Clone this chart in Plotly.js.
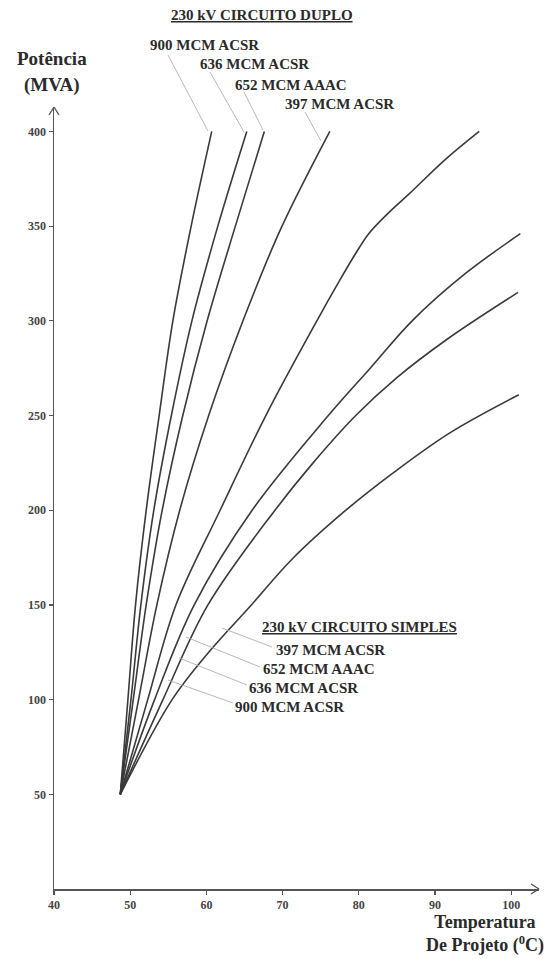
<!DOCTYPE html>
<html>
<head>
<meta charset="utf-8">
<script src="https://cdn.plot.ly/plotly-3.0.1.min.js"></script>
<style>html,body{margin:0;padding:0;background:#fff;}#chart{width:560px;height:959px;}</style>
</head>
<body>
<div id="chart"></div>
<script>
// ---- axis ticks ----
const tempTicks = [40, 50, 60, 70, 80, 90, 100];
const powerTicks = [50, 100, 150, 200, 250, 300, 350, 400];

// ---- 230 kV circuito duplo (temperature °C, power MVA) ----
const dup900_T = [48.7, 49.7, 50.7, 52.1, 53.8, 55.6, 58.0, 60.7];
const dup900_P = [50, 100, 150, 200, 250, 300, 350, 400];
const dup636_T = [48.7, 50.1, 51.4, 53.1, 55.4, 58.1, 61.5, 65.3];
const dup636_P = [50, 100, 150, 200, 250, 300, 350, 400];
const dup652_T = [48.7, 50.4, 52.1, 54.2, 56.9, 60.1, 63.8, 67.6];
const dup652_P = [50, 100, 150, 200, 250, 300, 350, 400];
const dup397_T = [48.7, 51.1, 53.5, 56.5, 60.3, 64.8, 69.7, 76.2];
const dup397_P = [50, 100, 150, 200, 250, 300, 348, 400];

// ---- 230 kV circuito simples ----
const sim900_T = [48.7, 52.3, 56.0, 61.8, 67.8, 74.5, 77.3, 79.5, 81.3, 83.9, 86.6, 91.3, 95.8];
const sim900_P = [50, 100, 150, 200, 250, 300, 320, 335, 346, 357, 367, 385, 400];
const sim636_T = [48.7, 53.2, 58.4, 66.0, 76.0, 81.5, 87.0, 94.0, 101.2];
const sim636_P = [50, 100, 150, 200, 250, 275, 300, 325, 346];
const sim652_T = [48.7, 54.3, 60.2, 69.0, 74.0, 79.6, 85.0, 91.5, 100.9];
const sim652_P = [50, 100, 150, 200, 225, 250, 270, 290, 315];
const sim397_T = [48.7, 55.5, 60.3, 65.9, 71.2, 78.3, 84.6, 92.0, 101.0];
const sim397_P = [50, 100, 125, 150, 174, 200, 220, 241, 261];

const series = [
  [dup900_T, dup900_P, 'Duplo 900 MCM ACSR'],
  [dup636_T, dup636_P, 'Duplo 636 MCM ACSR'],
  [dup652_T, dup652_P, 'Duplo 652 MCM AAAC'],
  [dup397_T, dup397_P, 'Duplo 397 MCM ACSR'],
  [sim900_T, sim900_P, 'Simples 900 MCM ACSR'],
  [sim636_T, sim636_P, 'Simples 636 MCM ACSR'],
  [sim652_T, sim652_P, 'Simples 652 MCM AAAC'],
  [sim397_T, sim397_P, 'Simples 397 MCM ACSR']
];

// ---- layout geometry (pixels) ----
const W = 560, H = 959;
const M = {l: 54, r: 21, t: 107, b: 70};
const PW = W - M.l - M.r, PH = H - M.t - M.b;
const X = px => (px - M.l) / PW;
const Y = py => (H - M.b - py) / PH;

const serif = '"Liberation Serif", "Times New Roman", serif';
const txtColor = '#2a2a2a';

const traces = series.map(s => ({
  x: s[0], y: s[1], name: s[2], type: 'scatter', mode: 'lines',
  line: {color: '#3a3a3a', width: 1.6, shape: 'spline', smoothing: 1},
  hoverinfo: 'x+y+name', showlegend: false
}));

function label(text, cx, cy, size) {
  return {text: text, xref: 'paper', yref: 'paper', x: X(cx), y: Y(cy),
    xanchor: 'center', yanchor: 'middle', showarrow: false,
    font: {family: serif, size: size, color: txtColor, weight: 700}};
}
function leader(x0, y0, x1, y1) {
  return {type: 'line', xref: 'paper', yref: 'paper', x0: X(x0), y0: Y(y0), x1: X(x1), y1: Y(y1),
    line: {color: '#b0b0b0', width: 0.9}};
}
function seg(x0, y0, x1, y1) {
  return {type: 'line', xref: 'paper', yref: 'paper', x0: X(x0), y0: Y(y0), x1: X(x1), y1: Y(y1),
    line: {color: '#555', width: 1.4}};
}

const annotations = [
  label('<u>230 kV CIRCUITO DUPLO</u>', 262, 15, 15),
  label('900 MCM ACSR', 204, 45, 15),
  label('636 MCM ACSR', 254, 64, 15),
  label('652 MCM AAAC', 291, 85, 15),
  label('397 MCM ACSR', 339, 104, 15),
  label('<u>230 kV CIRCUITO SIMPLES</u>', 359, 627, 15),
  label('397 MCM ACSR', 330, 650, 15),
  label('652 MCM AAAC', 319, 669, 15),
  label('636 MCM ACSR', 303, 688, 15),
  label('900 MCM ACSR', 289, 707, 15),
  label('Potência', 52, 58, 19),
  label('(MVA)', 52, 85, 19),
  {text: 'Temperatura<br>De Projeto (<sup>0</sup>C)', xref: 'paper', yref: 'paper',
   x: X(485), y: Y(958), xanchor: 'center', yanchor: 'bottom', showarrow: false,
   font: {family: serif, size: 18, color: txtColor, weight: 700}}
];

const shapes = [
  leader(168, 55, 208, 131),
  leader(210, 72, 244, 132),
  leader(244, 92, 263, 130),
  leader(305, 112, 321, 141),
  leader(272, 647, 222, 628),
  leader(260, 667, 186, 637),
  leader(247, 685, 179, 658),
  leader(233, 703, 168, 680),
  // axis arrow heads
  seg(49, 115, 54, 107), seg(59, 115, 54, 107),
  seg(531, 884, 539, 889), seg(531, 894, 539, 889)
];

const tickFont = {family: serif, size: 12, color: '#444', weight: 700};

const layout = {
  width: W, height: H,
  margin: M,
  paper_bgcolor: '#fff', plot_bgcolor: '#fff',
  showlegend: false,
  xaxis: {
    range: [40, 40 + PW / 7.62], tickvals: tempTicks, ticktext: tempTicks.map(String),
    showgrid: false, zeroline: false, showline: true, linecolor: '#555', linewidth: 1.5,
    ticks: 'outside', ticklen: 4, tickwidth: 1.2, tickcolor: '#555', tickfont: tickFont,
    fixedrange: true
  },
  yaxis: {
    range: [0, 412.9], tickvals: powerTicks, ticktext: powerTicks.map(String),
    showgrid: false, zeroline: false, showline: true, linecolor: '#555', linewidth: 1.5,
    ticks: 'outside', ticklen: 4, tickwidth: 1.2, tickcolor: '#555', tickfont: tickFont,
    fixedrange: true
  },
  annotations: annotations,
  shapes: shapes
};

Plotly.newPlot('chart', traces, layout, {displayModeBar: false, staticPlot: true});
</script>
</body>
</html>
